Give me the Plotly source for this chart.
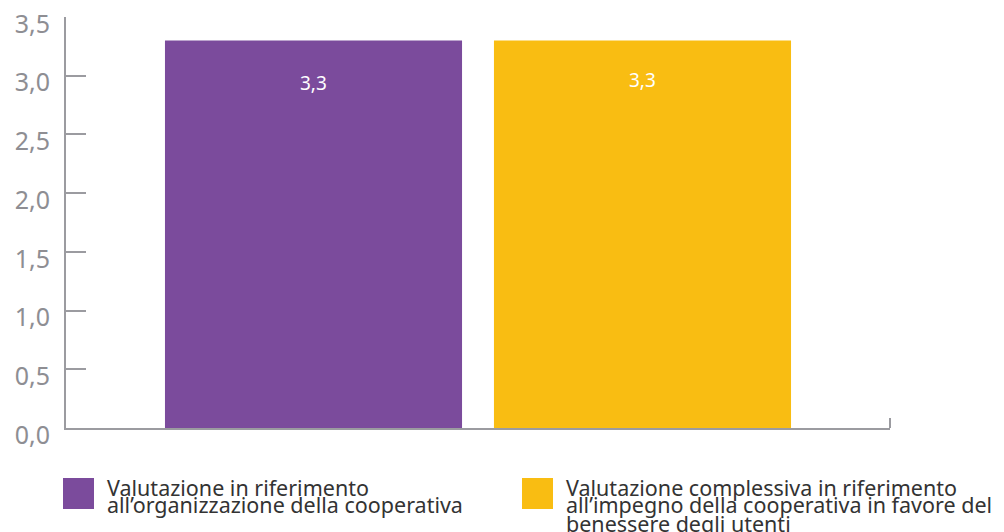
import plotly.graph_objects as go

# dati
categoria = ["Valutazione"]
serie_nomi = [
    ["Valutazione in riferimento", "all’organizzazione della cooperativa"],
    ["Valutazione complessiva in riferimento",
     "all’impegno della cooperativa in favore del",
     "benessere degli utenti"],
]
valori = [3.3, 3.3]
colori = ["#7B4B9C", "#F9BD12"]
y_ticks = [0, 0.5, 1.0, 1.5, 2.0, 2.5, 3.0, 3.5]

GRIGIO = "#9B9BA0"
FONT = "Noto Sans"
OFF = 8  # margine del body della pagina html

# area del grafico (pixel sulla pagina)
PX0, PX1, PY0, PY1 = 66, 890, 17, 428
PW, PH = PX1 - PX0, PY1 - PY0

fig = go.Figure()
for nome, v, c in zip(serie_nomi, valori, colori):
    fig.add_trace(go.Bar(x=categoria, y=[v], name=" ".join(nome),
                         marker=dict(color=c, line=dict(width=0)),
                         showlegend=False))

# etichette valore dentro le barre
for i, v in enumerate(valori):
    fig.add_annotation(x=categoria[0], y=v, text=f"{v:.1f}".replace(".", ","),
                       showarrow=False, xshift=(-164.5 if i == 0 else 164.5),
                       yshift=-43 if i == 0 else -40,
                       font=dict(family=FONT, size=19, color="white"))

# tacca finale asse x
fig.add_shape(type="line", xref="paper", yref="y", x0=1, x1=1, y0=0, y1=0.085,
              line=dict(color=GRIGIO, width=2))

# legenda manuale (quadrati grandi)
legenda_x = [63, 522]
for nome, c, lx in zip(serie_nomi, colori, legenda_x):
    fig.add_shape(type="rect", xref="paper", yref="paper",
                  x0=(lx - PX0) / PW, x1=(lx + 31 - PX0) / PW,
                  y0=-(478 - PY1) / PH, y1=-(509 - PY1) / PH,
                  fillcolor=c, line=dict(width=0))
    for j, riga in enumerate(nome):
        fig.add_annotation(xref="paper", yref="paper",
                           x=(lx + 42 - PX0) / PW, y=-(487 + 18 * j - PY1) / PH,
                           xanchor="left", yanchor="middle", showarrow=False,
                           text=riga, font=dict(family=FONT, size=21.5, color="#333333"))

fig.update_layout(
    width=1004, height=532,
    margin=dict(l=PX0 - OFF, r=1004 - (PX1 - OFF), t=PY0 - OFF, b=532 - (PY1 - OFF),
                autoexpand=False),
    paper_bgcolor="white", plot_bgcolor="white",
    separators=",.",
    barmode="group", bargap=0.2015, bargroupgap=0.097,
    font=dict(family=FONT),
)
fig.update_xaxes(type="category", showline=True, linecolor=GRIGIO, linewidth=2,
                 showticklabels=False, ticks="", showgrid=False, zeroline=False,
                 automargin=False)
fig.update_yaxes(range=[0, 3.5], tickvals=y_ticks, tickformat=".1f",
                 showline=True, linecolor=GRIGIO, linewidth=2,
                 ticks="inside", ticklen=20, tickwidth=2, tickcolor=GRIGIO,
                 showgrid=False, zeroline=False, ticklabelstandoff=9,
                 ticklabelshift=7,
                 automargin=False, ticklabeloverflow="allow",
                 tickfont=dict(family=FONT, size=25, color="#8E8E93"))

fig.write_html("out.html")
